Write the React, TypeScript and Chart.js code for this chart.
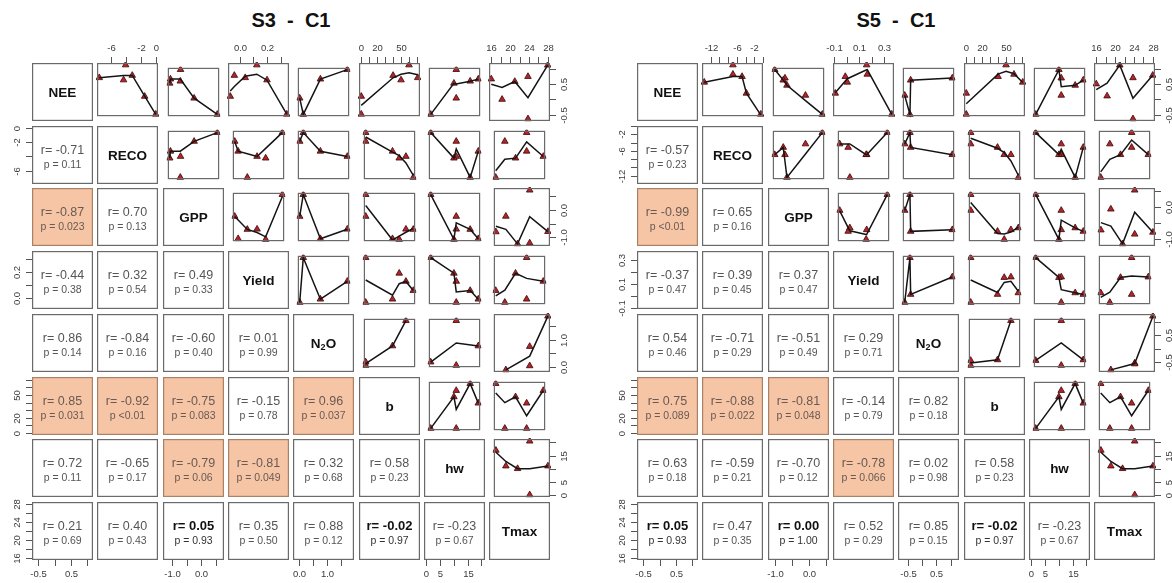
import React, { useEffect, useRef } from 'react';
import { Chart, registerables } from 'chart.js';

Chart.register(...registerables);

// ---------- variables (diagonal labels) ----------
const VAR_NAMES = ['NEE', 'RECO', 'GPP', 'Yield', 'N2O', 'b', 'hw', 'Tmax'];

// ---------- S3 - C1 : six sampling dates ----------
const s3NEE = [0.66, 1.11, 0.58, 0.74, 0.0, -0.63];
const s3RECO = [-7.6, -4.05, -4.33, -3.16, -1.49, 0.0];
const s3GPP = [-0.8, -0.79, -1.23, -1.2, -0.24, 0.7];
const s3Yield = [0.04, 0.125, 0.2, -0.04, -0.07, 0.345];
const s3N2O = [null, 1.88, null, 0.75, -0.12, 0.03];
const s3B = [71, 60, 50, 40, 0, 0];
const s3HW = [17, 11, 10, 20.5, 11, 0];
const s3Tmax = [16, 28, 21, 23.8, 18.3, 23.8];

// ---------- S5 - C1 ----------
const s5NEE = [0.5, 0.78, 1.11, 0.7, 0.11, -0.63];
const s5RECO = [-13.5, -6.9, -6.9, -4.8, -3.8, -0.5];
const s5GPP = [-0.71, -0.78, -1.14, -0.84, -0.06, 0.53];
const s5Yield = [0.006, 0.165, 0.16, -0.01, -0.09, 0.36];
const s5N2O = [null, 1.22, null, -0.53, -0.78, -0.56];
const s5B = [71, 60, 50, 40, 0, 0];
const s5HW = [17, 11, 10, 20.5, 11, 0];
const s5Tmax = [16, 28, 21, 23.8, 18.3, 23.8];

// ---------- axis ticks (values) and their printed labels ----------
const s3NEETicks = [-0.5, 0, 0.5, 1.0];
const s3NEELabels = ['-0.5', '', '0.5', ''];
const s3RECOTicks = [-6, -4, -2, 0];
const s3RECOLabels = ['-6', '', '-2', '0'];
const s3GPPTicks = [-1.0, -0.5, 0, 0.5];
const s3GPPLabels = ['-1.0', '', '0.0', ''];
const s3YieldTicks = [0, 0.1, 0.2, 0.3];
const s3YieldLabels = ['0.0', '', '0.2', ''];
const s3N2OTicks = [0, 0.5, 1.0, 1.5];
const s3N2OLabels = ['0.0', '', '1.0', ''];
const bTicks = [0, 10, 20, 30, 40, 50, 60, 70];
const bLabels = ['0', '', '20', '', '', '50', '', ''];
const hwTicks = [0, 5, 10, 15, 20];
const hwLabels = ['0', '5', '', '15', ''];
const tmaxTicks = [16, 18, 20, 22, 24, 26, 28];
const tmaxLabels = ['16', '', '20', '', '24', '', '28'];

const s5NEETicks = [-0.5, 0, 0.5, 1.0];
const s5NEELabels = ['-0.5', '', '0.5', ''];
const s5RECOTicks = [-12, -10, -8, -6, -4, -2, 0];
const s5RECOLabels = ['-12', '', '', '-6', '', '-2', ''];
const s5GPPTicks = [-1.0, -0.5, 0, 0.5];
const s5GPPLabels = ['-1.0', '', '0.0', ''];
const s5YieldTicks = [-0.1, 0, 0.1, 0.2, 0.3];
const s5YieldLabels = ['-0.1', '', '0.1', '', '0.3'];
const s5N2OTicks = [-0.5, 0, 0.5, 1.0];
const s5N2OLabels = ['-0.5', '', '0.5', ''];

// ---------- lower panels: correlation text (row-major, below diagonal) ----------
const s3R = ['-0.71', '-0.87', '0.70', '-0.44', '0.32', '0.49', '0.86', '-0.84', '-0.60', '0.01',
  '0.85', '-0.92', '-0.75', '-0.15', '0.96', '0.72', '-0.65', '-0.79', '-0.81', '0.32', '0.58',
  '0.21', '0.40', '0.05', '0.35', '0.88', '-0.02', '-0.23'];
const s3P = ['0.11', '0.023', '0.13', '0.38', '0.54', '0.33', '0.14', '0.16', '0.40', '0.99',
  '0.031', '<0.01', '0.083', '0.78', '0.037', '0.11', '0.17', '0.06', '0.049', '0.68', '0.23',
  '0.69', '0.43', '0.93', '0.50', '0.12', '0.97', '0.67'];
const s3Sig = [0, 1, 0, 0, 0, 0, 0, 0, 0, 0, 1, 1, 1, 0, 1, 0, 0, 1, 1, 0, 0, 0, 0, 0, 0, 0, 0, 0];
const s3Bold = [0, 0, 0, 0, 0, 0, 0, 0, 0, 0, 0, 0, 0, 0, 0, 0, 0, 0, 0, 0, 0, 0, 0, 1, 0, 0, 1, 0];

const s5R = ['-0.57', '-0.99', '0.65', '-0.37', '0.39', '0.37', '0.54', '-0.71', '-0.51', '0.29',
  '0.75', '-0.88', '-0.81', '-0.14', '0.82', '0.63', '-0.59', '-0.70', '-0.78', '0.02', '0.58',
  '0.05', '0.47', '0.00', '0.52', '0.85', '-0.02', '-0.23'];
const s5P = ['0.23', '<0.01', '0.16', '0.47', '0.45', '0.47', '0.46', '0.29', '0.49', '0.71',
  '0.089', '0.022', '0.048', '0.79', '0.18', '0.18', '0.21', '0.12', '0.066', '0.98', '0.23',
  '0.93', '0.35', '1.00', '0.29', '0.15', '0.97', '0.67'];
const s5Sig = [0, 1, 0, 0, 0, 0, 0, 0, 0, 0, 1, 1, 1, 0, 0, 0, 0, 0, 1, 0, 0, 0, 0, 0, 0, 0, 0, 0];
const s5Bold = [0, 0, 0, 0, 0, 0, 0, 0, 0, 0, 0, 0, 0, 0, 0, 0, 0, 0, 0, 0, 0, 1, 0, 1, 0, 0, 1, 0];

type Val = number | null;
type PanelCfg = {
  title: string;
  left: number;
  vars: Val[][];
  ticks: number[][];
  labels: string[][];
  r: string[];
  p: string[];
  sig: number[];
  bold: number[];
};

const PANELS: PanelCfg[] = [
  {
    title: 'S3  -  C1',
    left: 32,
    vars: [s3NEE, s3RECO, s3GPP, s3Yield, s3N2O, s3B, s3HW, s3Tmax],
    ticks: [s3NEETicks, s3RECOTicks, s3GPPTicks, s3YieldTicks, s3N2OTicks, bTicks, hwTicks, tmaxTicks],
    labels: [s3NEELabels, s3RECOLabels, s3GPPLabels, s3YieldLabels, s3N2OLabels, bLabels, hwLabels, tmaxLabels],
    r: s3R, p: s3P, sig: s3Sig, bold: s3Bold,
  },
  {
    title: 'S5  -  C1',
    left: 637,
    vars: [s5NEE, s5RECO, s5GPP, s5Yield, s5N2O, s5B, s5HW, s5Tmax],
    ticks: [s5NEETicks, s5RECOTicks, s5GPPTicks, s5YieldTicks, s5N2OTicks, bTicks, hwTicks, tmaxTicks],
    labels: [s5NEELabels, s5RECOLabels, s5GPPLabels, s5YieldLabels, s5N2OLabels, bLabels, hwLabels, tmaxLabels],
    r: s5R, p: s5P, sig: s5Sig, bold: s5Bold,
  },
];

// ---------- layout ----------
const GRID_TOP = 63;
const COL_PITCH = 65.3;
const ROW_PITCH = 62.7;
const CELL_W = 61;
const CELL_H = 58;
const MARGIN = 30;
const SIDE = 10;
const FONT = '"Liberation Sans", Arial, sans-serif';

// R's lowess (clowess port), used by panel.smooth
function lowess(xIn: number[], yIn: number[], f = 2 / 3, nsteps = 3) {
  const n = xIn.length;
  const order = xIn.map((_, k) => k).sort((a, b) => xIn[a] - xIn[b]);
  const x = [NaN, ...order.map((k) => xIn[k])];
  const y = [NaN, ...order.map((k) => yIn[k])];
  if (n < 2) return [{ x: x[1], y: y[1] }];
  const ys = new Array(n + 1).fill(0);
  const rw = new Array(n + 1).fill(1);
  const res = new Array(n + 1).fill(0);
  const w = new Array(n + 1).fill(0);
  const range = x[n] - x[1];
  const delta = 0.01 * range;
  const ns = Math.max(2, Math.min(n, Math.floor(f * n + 1e-7)));
  const lowest = (xs: number, nleft: number, nright: number, userw: boolean): number | null => {
    const h = Math.max(xs - x[nleft], x[nright] - xs);
    const h9 = 0.999 * h;
    const h1 = 0.001 * h;
    let a = 0;
    let j = nleft;
    while (j <= n) {
      w[j] = 0;
      const r = Math.abs(x[j] - xs);
      if (r <= h9) {
        w[j] = r <= h1 ? 1 : Math.pow(1 - Math.pow(r / h, 3), 3);
        if (userw) w[j] *= rw[j];
        a += w[j];
      } else if (x[j] > xs) break;
      j++;
    }
    const nrt = j - 1;
    if (a <= 0) return null;
    for (j = nleft; j <= nrt; j++) w[j] /= a;
    if (h > 0) {
      a = 0;
      for (j = nleft; j <= nrt; j++) a += w[j] * x[j];
      let b = xs - a;
      let c = 0;
      for (j = nleft; j <= nrt; j++) c += w[j] * (x[j] - a) * (x[j] - a);
      if (Math.sqrt(c) > 0.001 * range) {
        b /= c;
        for (j = nleft; j <= nrt; j++) w[j] *= b * (x[j] - a) + 1;
      }
    }
    let out = 0;
    for (j = nleft; j <= nrt; j++) out += w[j] * y[j];
    return out;
  };
  let iter = 1;
  while (iter <= nsteps + 1) {
    let nleft = 1;
    let nright = ns;
    let last = 0;
    let i = 1;
    for (;;) {
      if (nright < n) {
        const d1 = x[i] - x[nleft];
        const d2 = x[nright + 1] - x[i];
        if (d1 > d2) {
          nleft++;
          nright++;
          continue;
        }
      }
      const fit = lowest(x[i], nleft, nright, iter > 1);
      ys[i] = fit === null ? y[i] : fit;
      if (last < i - 1) {
        const denom = x[i] - x[last];
        for (let j = last + 1; j < i; j++) {
          const alpha = (x[j] - x[last]) / denom;
          ys[j] = alpha * ys[i] + (1 - alpha) * ys[last];
        }
      }
      last = i;
      const cut = x[last] + delta;
      for (i = last + 1; i <= n; i++) {
        if (x[i] > cut) break;
        if (x[i] === x[last]) {
          ys[i] = ys[last];
          last = i;
        }
      }
      i = Math.max(last + 1, i - 1);
      if (last >= n) break;
    }
    for (let k = 1; k <= n; k++) res[k] = y[k] - ys[k];
    let sc = 0;
    for (let k = 1; k <= n; k++) sc += Math.abs(res[k]);
    sc /= n;
    if (iter > nsteps) break;
    const sorted = res.slice(1).map((v) => Math.abs(v)).sort((a, b) => a - b);
    const m1 = Math.floor(n / 2);
    const cmad = n % 2 === 0 ? 3 * (sorted[m1] + sorted[n - m1 - 1]) : 6 * sorted[m1];
    if (cmad < 1e-7 * sc) break;
    const c9 = 0.999 * cmad;
    const c1 = 0.001 * cmad;
    for (let k = 1; k <= n; k++) {
      const r = Math.abs(res[k]);
      rw[k] = r <= c1 ? 1 : r <= c9 ? Math.pow(1 - Math.pow(r / cmad, 2), 2) : 0;
    }
    iter++;
  }
  return x.slice(1).map((xv, k) => ({ x: xv, y: ys[k + 1] }));
}

function padRange(vals: Val[]): [number, number] {
  const v = vals.filter((d): d is number => d !== null);
  const lo = Math.min(...v);
  const hi = Math.max(...v);
  const d = (hi - lo) * 0.04;
  return [lo - d, hi + d];
}

function lowerIndex(i: number, j: number) {
  return (i * (i - 1)) / 2 + j;
}

function Cell({ panel, i, j }: { panel: PanelCfg; i: number; j: number }) {
  const ref = useRef<HTMLCanvasElement>(null);
  const x0 = Math.round(panel.left + j * COL_PITCH);
  const y0 = Math.round(GRID_TOP + i * ROW_PITCH);
  const axTop = i === 0 && j % 2 === 1;
  const axBottom = i === 7 && j % 2 === 0;
  const axLeft = j === 0 && i % 2 === 1;
  const axRight = j === 7 && i % 2 === 0;
  const horiz = axTop || axBottom;
  const vert = axLeft || axRight;
  const ml = axLeft ? MARGIN : horiz ? SIDE : 0;
  const mr = axRight ? MARGIN : horiz ? SIDE : 0;
  const mt = axTop ? MARGIN : vert ? SIDE : 0;
  const mb = axBottom ? MARGIN : vert ? SIDE : 0;
  const W = CELL_W + ml + mr;
  const H = CELL_H + mt + mb;

  useEffect(() => {
    const canvas = ref.current;
    if (!canvas) return;
    const xs = panel.vars[j];
    const ysv = panel.vars[i];
    const [xmin, xmax] = padRange(xs);
    const [ymin, ymax] = padRange(ysv);
    const datasets: any[] = [];
    if (j > i) {
      const pts: { x: number; y: number }[] = [];
      for (let k = 0; k < xs.length; k++) {
        const a = xs[k];
        const b = ysv[k];
        if (a !== null && b !== null) pts.push({ x: a, y: b });
      }
      const fit = lowess(pts.map((p) => p.x), pts.map((p) => p.y));
      datasets.push({
        data: fit,
        showLine: true,
        borderColor: '#141414',
        borderWidth: 1.5,
        pointRadius: 0,
        tension: 0,
        order: 0,
        clip: 1,
      });
      datasets.push({
        data: pts,
        showLine: false,
        pointStyle: 'triangle',
        pointRadius: 3.8,
        backgroundColor: '#b5242a',
        borderColor: '#3a0606',
        borderWidth: 0.8,
        order: 1,
        clip: 1,
      });
    }
    const li = i > j ? lowerIndex(i, j) : -1;
    const sig = li >= 0 && panel.sig[li] === 1;

    const cellPlugin = {
      id: 'cellPainter',
      beforeDraw(chart: any) {
        const { ctx, chartArea: a } = chart;
        ctx.save();
        ctx.fillStyle = sig ? '#f5c5a6' : '#ffffff';
        ctx.fillRect(a.left, a.top, a.right - a.left, a.bottom - a.top);
        ctx.restore();
      },
      afterDraw(chart: any) {
        const { ctx, chartArea: a } = chart;
        const cx = (a.left + a.right) / 2;
        const cy = (a.top + a.bottom) / 2;
        ctx.save();
        // box
        ctx.strokeStyle = sig ? '#a98165' : '#6a6a6a';
        ctx.lineWidth = 1.2;
        ctx.strokeRect(a.left + 0.6, a.top + 0.6, a.right - a.left - 1.2, a.bottom - a.top - 1.2);
        // diagonal labels
        if (i === j) {
          const name = VAR_NAMES[i];
          ctx.fillStyle = '#111111';
          ctx.textBaseline = 'middle';
          if (name === 'N2O') {
            const big = `bold 13.5px ${FONT}`;
            const small = `bold 9px ${FONT}`;
            ctx.font = big;
            const wN = ctx.measureText('N').width;
            const wO = ctx.measureText('O').width;
            ctx.font = small;
            const w2 = ctx.measureText('2').width;
            let sx = cx - (wN + w2 + wO) / 2;
            ctx.textAlign = 'left';
            ctx.font = big;
            ctx.fillText('N', sx, cy + 1);
            sx += wN;
            ctx.font = small;
            ctx.fillText('2', sx, cy + 5);
            sx += w2;
            ctx.font = big;
            ctx.fillText('O', sx, cy + 1);
          } else {
            ctx.font = `bold 13.5px ${FONT}`;
            ctx.textAlign = 'center';
            ctx.fillText(name, cx, cy + 1);
          }
        }
        // correlation text
        if (li >= 0) {
          const bold = panel.bold[li] === 1;
          ctx.textAlign = 'center';
          ctx.textBaseline = 'middle';
          ctx.fillStyle = bold ? '#111111' : sig ? '#6a5a52' : '#555555';
          ctx.font = bold ? `bold 13px ${FONT}` : `12.5px ${FONT}`;
          ctx.fillText(`r= ${panel.r[li]}`, cx, cy - 4.5);
          const pv = panel.p[li];
          ctx.font = `10.5px ${FONT}`;
          ctx.fillStyle = bold ? '#333333' : sig ? '#6a5a52' : '#555555';
          ctx.fillText(pv.startsWith('<') ? `p ${pv}` : `p = ${pv}`, cx, cy + 10);
        }
        // outer axes
        ctx.strokeStyle = '#555555';
        ctx.fillStyle = '#3a3a3a';
        ctx.lineWidth = 1;
        ctx.font = `9.5px ${FONT}`;
        ctx.textAlign = 'center';
        ctx.textBaseline = 'middle';
        const sx = chart.scales.x;
        const sy = chart.scales.y;
        if (horiz) {
          const tv = panel.ticks[j];
          const tl = panel.labels[j];
          tv.forEach((t, k) => {
            if (t < xmin || t > xmax) return;
            const px = Math.round(sx.getPixelForValue(t)) + 0.5;
            const edge = axTop ? a.top : a.bottom;
            const dir = axTop ? -1 : 1;
            ctx.beginPath();
            ctx.moveTo(px, edge);
            ctx.lineTo(px, edge + dir * 6);
            ctx.stroke();
            if (tl[k]) ctx.fillText(tl[k], px, edge + dir * 14.5);
          });
        }
        if (vert) {
          const tv = panel.ticks[i];
          const tl = panel.labels[i];
          tv.forEach((t, k) => {
            if (t < ymin || t > ymax) return;
            const py = Math.round(sy.getPixelForValue(t)) + 0.5;
            const edge = axLeft ? a.left : a.right;
            const dir = axLeft ? -1 : 1;
            ctx.beginPath();
            ctx.moveTo(edge, py);
            ctx.lineTo(edge + dir * 6, py);
            ctx.stroke();
            if (tl[k]) {
              ctx.save();
              ctx.translate(edge + dir * 14.5, py);
              ctx.rotate(-Math.PI / 2);
              ctx.fillText(tl[k], 0, 0);
              ctx.restore();
            }
          });
        }
        ctx.restore();
      },
    };

    const chart = new Chart(canvas, {
      type: 'scatter',
      data: { datasets },
      options: {
        responsive: false,
        maintainAspectRatio: false,
        animation: false,
        events: [],
        layout: { padding: { left: ml, right: mr, top: mt, bottom: mb } },
        plugins: { legend: { display: false }, tooltip: { enabled: false }, title: { display: false } },
        scales: {
          x: { type: 'linear', min: xmin, max: xmax, bounds: 'data', display: false, grid: { display: false } },
          y: { type: 'linear', min: ymin, max: ymax, bounds: 'data', display: false, grid: { display: false } },
        },
      } as any,
      plugins: [cellPlugin],
    });
    return () => chart.destroy();
  }, [panel, i, j]);

  return (
    <canvas
      ref={ref}
      width={W}
      height={H}
      style={{ position: 'absolute', left: x0 - ml, top: y0 - mt, width: W, height: H }}
    />
  );
}

function PanelView({ panel }: { panel: PanelCfg }) {
  const cells: React.ReactNode[] = [];
  for (let i = 0; i < 8; i++) {
    for (let j = 0; j < 8; j++) {
      cells.push(<Cell key={`${i}-${j}`} panel={panel} i={i} j={j} />);
    }
  }
  const span = Math.round(7 * COL_PITCH + CELL_W);
  return (
    <>
      <div
        style={{
          position: 'absolute',
          left: panel.left,
          top: 8,
          width: span,
          textAlign: 'center',
          fontFamily: FONT,
          fontWeight: 'bold',
          fontSize: 20,
          lineHeight: '24px',
          whiteSpace: 'pre',
          color: '#111',
        }}
      >
        {panel.title}
      </div>
      {cells}
    </>
  );
}

export default function App() {
  return (
    <div
      style={{
        position: 'fixed',
        left: 0,
        top: 0,
        width: 1172,
        height: 583,
        background: '#ffffff',
        overflow: 'hidden',
      }}
    >
      {PANELS.map((p) => (
        <PanelView key={p.title} panel={p} />
      ))}
    </div>
  );
}
